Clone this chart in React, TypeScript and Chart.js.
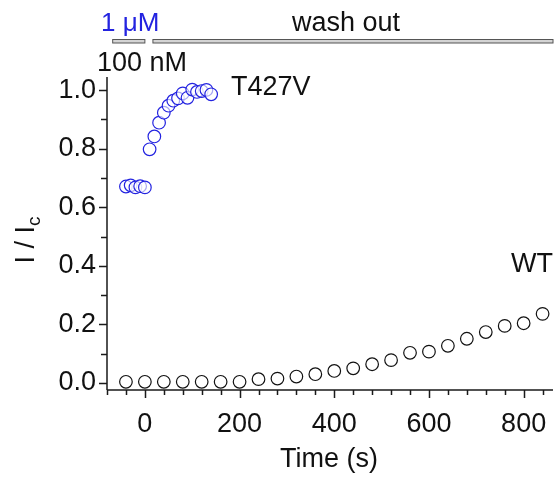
import React, { useEffect, useRef } from "react";
import { Chart, registerables } from "chart.js";

Chart.register(...registerables);

// ---- data ----
const t427vTimes = [-40, -30, -20, -10, 0, 10, 20, 30, 40, 50, 60, 70, 80, 90, 100, 110, 120, 130, 140];
const t427vValues = [0.671, 0.675, 0.668, 0.672, 0.668, 0.798, 0.842, 0.889, 0.923, 0.947, 0.964, 0.972, 0.989, 0.974, 1.002, 0.994, 0.997, 1.001, 0.986];

const wtTimes = [-40, 0, 40, 80, 120, 160, 200, 240, 280, 320, 360, 400, 440, 480, 520, 560, 600, 640, 680, 720, 760, 800, 840];
const wtValues = [0.004, 0.004, 0.004, 0.004, 0.004, 0.004, 0.004, 0.013, 0.015, 0.022, 0.03, 0.041, 0.05, 0.064, 0.078, 0.103, 0.107, 0.127, 0.151, 0.174, 0.195, 0.204, 0.236];

const xMajorTicks = [0, 200, 400, 600, 800];
const yMajorTicks = [0, 0.2, 0.4, 0.6, 0.8, 1.0];

// application bars (time ranges)
const drugBar = [-68, 0];
const washBar = [17, 862];

const FONT = "'Liberation Sans', Arial, sans-serif";
const FS = 27;
const BLUE = "#2323e0";

const decorPlugin = {
  id: "decor",
  afterDraw(chart: any) {
    const { ctx, chartArea, scales } = chart;
    const xs = scales.x;
    const ys = scales.y;
    ctx.save();
    ctx.strokeStyle = "#1a1a1a";
    ctx.lineWidth = 1.5;
    // axes
    ctx.beginPath();
    ctx.moveTo(chartArea.left, chartArea.top);
    ctx.lineTo(chartArea.left, chartArea.bottom);
    ctx.moveTo(chartArea.left, chartArea.bottom);
    ctx.lineTo(chartArea.right, chartArea.bottom);
    ctx.stroke();
    // y ticks
    ctx.beginPath();
    for (let i = 0; i <= 10; i++) {
      const v = i / 10;
      const py = Math.round(ys.getPixelForValue(v)) + 0.5;
      const len = i % 2 === 0 ? 8 : 6;
      ctx.moveTo(chartArea.left - len, py);
      ctx.lineTo(chartArea.left, py);
    }
    // x ticks
    for (let v = -80; v <= 860; v += 40) {
      const px = Math.round(xs.getPixelForValue(v)) + 0.5;
      const len = v % 200 === 0 ? 8 : 5;
      ctx.moveTo(px, chartArea.bottom);
      ctx.lineTo(px, chartArea.bottom + len);
    }
    ctx.stroke();

    // application bars
    const barY = 39.5;
    const barH = 3.5;
    ctx.fillStyle = "#d4d4d4";
    ctx.strokeStyle = "#555";
    ctx.lineWidth = 1;
    for (const b of [drugBar, washBar]) {
      const x0 = xs.getPixelForValue(b[0]);
      const x1 = Math.min(xs.getPixelForValue(b[1]), chartArea.right);
      ctx.fillRect(x0, barY, x1 - x0, barH);
      ctx.strokeRect(x0, barY, x1 - x0, barH);
    }

    // texts
    ctx.textBaseline = "alphabetic";
    ctx.fillStyle = BLUE;
    ctx.textAlign = "left";
    ctx.font = `26px ${FONT}`;
    ctx.fillText("1 \u03BCM", 101, 31);
    ctx.font = `${FS}px ${FONT}`;
    ctx.fillStyle = "#111";
    ctx.textAlign = "center";
    ctx.fillText("wash out", 346, 31);
    ctx.textAlign = "left";
    ctx.fillText("100 nM", 97, 71);
    ctx.fillText("T427V", 231, 95);
    ctx.fillText("WT", 511, 272);

    // x title
    ctx.textAlign = "center";
    ctx.fillText("Time (s)", 329, 467);

    // y title: I / Ic (rotated)
    ctx.save();
    ctx.translate(34, 240);
    ctx.rotate(-Math.PI / 2);
    ctx.font = `${FS}px ${FONT}`;
    const main = "I / I";
    const wMain = ctx.measureText(main).width;
    ctx.font = `19px ${FONT}`;
    const wSub = ctx.measureText("c").width;
    const total = wMain + wSub;
    ctx.textAlign = "left";
    ctx.font = `${FS}px ${FONT}`;
    ctx.fillText(main, -total / 2, 0);
    ctx.font = `19px ${FONT}`;
    ctx.fillText("c", -total / 2 + wMain, 6);
    ctx.restore();

    ctx.restore();
  },
};

export default function App() {
  const canvasRef = useRef<HTMLCanvasElement | null>(null);

  useEffect(() => {
    if (!canvasRef.current) return;
    const chart = new Chart(canvasRef.current, {
      type: "scatter",
      data: {
        datasets: [
          {
            label: "T427V",
            data: t427vTimes.map((t, i) => ({ x: t, y: t427vValues[i] })),
            pointRadius: 6.3,
            pointBorderWidth: 1.2,
            pointBorderColor: BLUE,
            pointBackgroundColor: "rgba(255,255,255,0.6)",
            showLine: false,
          },
          {
            label: "WT",
            data: wtTimes.map((t, i) => ({ x: t, y: wtValues[i] })),
            pointRadius: 6.3,
            pointBorderWidth: 1.2,
            pointBorderColor: "#111",
            pointBackgroundColor: "rgba(255,255,255,0)",
            showLine: false,
          },
        ],
      },
      options: {
        animation: false,
        responsive: false,
        devicePixelRatio: 1,
        layout: { autoPadding: false, padding: { left: 0, top: 77, right: 3, bottom: 0 } },
        plugins: { legend: { display: false }, tooltip: { enabled: false } },
        scales: {
          x: {
            type: "linear",
            min: -80,
            max: 862,
            grid: { display: false, drawTicks: false },
            border: { display: false },
            ticks: {
              stepSize: 200,
              includeBounds: false,
              padding: 18,
              color: "#111",
              font: { family: FONT, size: FS },
              maxRotation: 0,
              callback: (v: any) => (xMajorTicks.includes(Number(v)) ? String(v) : ""),
            },
            afterFit: (s: any) => {
              s.height = 87;
              s.paddingLeft = 0;
              s.paddingRight = 0;
            },
          },
          y: {
            type: "linear",
            min: -0.024,
            max: 1.045,
            grid: { display: false, drawTicks: false },
            border: { display: false },
            ticks: {
              stepSize: 0.2,
              includeBounds: false,
              padding: 11,
              color: "#111",
              font: { family: FONT, size: FS },
              callback: (v: any) => {
                const n = Math.round(Number(v) * 10) / 10;
                return yMajorTicks.some((m) => Math.abs(m - n) < 1e-6) ? n.toFixed(1) : "";
              },
            },
            afterFit: (s: any) => {
              s.width = 107;
              s.paddingTop = 0;
              s.paddingBottom = 0;
            },
          },
        },
      },
      plugins: [decorPlugin],
    });
    return () => chart.destroy();
  }, []);

  return (
    <div style={{ position: "absolute", left: 0, top: 0, width: 556, height: 477, background: "#fff" }}>
      <canvas ref={canvasRef} width={556} height={477} style={{ width: 556, height: 477 }} />
    </div>
  );
}
